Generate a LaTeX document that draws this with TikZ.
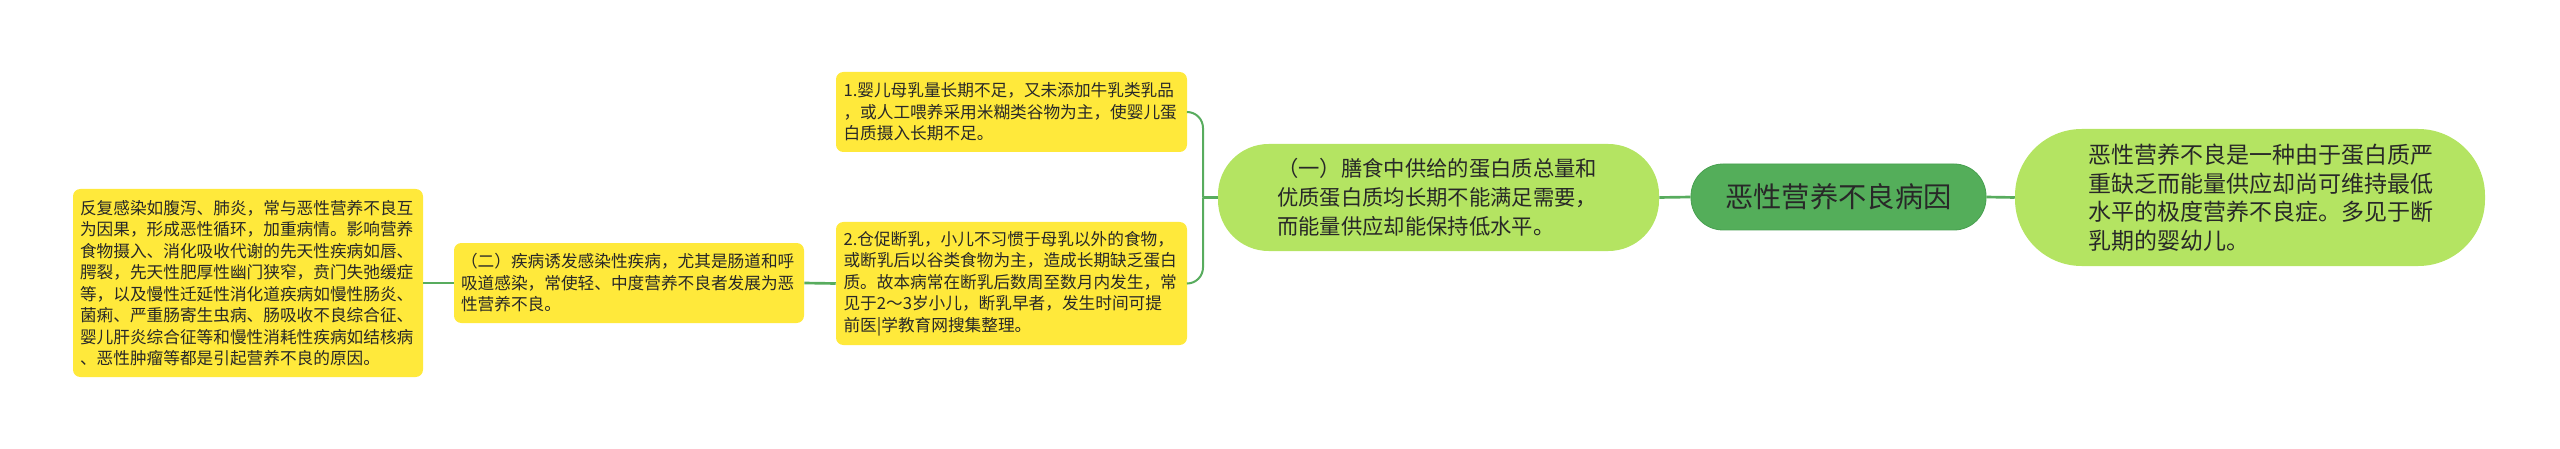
\documentclass[tikz,border=0pt]{standalone}
\usepackage{fontspec}
\setmainfont{Noto Sans CJK SC}
\definecolor{yel}{RGB}{255,233,59}
\definecolor{lgreen}{RGB}{180,228,98}
\definecolor{dgreen}{RGB}{84,174,90}
\definecolor{dgreenline}{RGB}{72,160,80}
\definecolor{conn}{RGB}{88,172,94}
\definecolor{txt}{RGB}{40,40,40}
\tikzset{
  ybox/.style={fill=yel, rounded corners=5.5pt, inner sep=0pt, align=left, text=txt,
    font=\fontsize{12.5}{16.1}\selectfont, text width=252pt},
  gbox/.style={fill=lgreen, inner sep=0pt, align=left, text=txt},
  rootbox/.style={fill=dgreen, draw=dgreenline, line width=0.6pt, inner sep=0pt, text=txt,
    font=\fontsize{21.2}{26}\selectfont},
  link/.style={draw=conn, line width=2pt},
  brace/.style={draw=conn, line width=1.5pt, rounded corners=12pt}
}
\begin{document}
\begin{tikzpicture}[x=0.75pt,y=-0.75pt]
\useasboundingbox (0,0) rectangle (2560,449);
% nodes
\node[ybox, minimum width=262.5pt, minimum height=141pt] (lbox) at (248,283)
 {反复感染如腹泻、肺炎，常与恶性营养不良互\\为因果，形成恶性循环，加重病情。影响营养\\食物摄入、消化吸收代谢的先天性疾病如唇、\\腭裂，先天性肥厚性幽门狭窄，贲门失弛缓症\\等，以及慢性迁延性消化道疾病如慢性肠炎、\\菌痢、严重肠寄生虫病、肠吸收不良综合征、\\婴儿肝炎综合征等和慢性消耗性疾病如结核病\\、恶性肿瘤等都是引起营养不良的原因。};
\node[ybox, minimum width=262.5pt, minimum height=60pt] (n2) at (629,283)
 {（二）疾病诱发感染性疾病，尤其是肠道和呼\\吸道感染，常使轻、中度营养不良者发展为恶\\性营养不良。};
\node[ybox, minimum width=263.25pt, minimum height=60pt] (b1) at (1011.5,112)
 {1.婴儿母乳量长期不足，又未添加牛乳类乳品\\，或人工喂养采用米糊类谷物为主，使婴儿蛋\\白质摄入长期不足。};
\node[ybox, minimum width=263.25pt, minimum height=92.25pt] (b2) at (1011.5,283.5)
 {2.仓促断乳，小儿不习惯于母乳以外的食物，\\或断乳后以谷类食物为主，造成长期缺乏蛋白\\质。故本病常在断乳后数周至数月内发生，常\\见于2～3岁小儿，断乳早者，发生时间可提\\前医|学教育网搜集整理。};
\node[gbox, rounded corners=38pt, minimum width=330.75pt, minimum height=80.25pt,
  font=\fontsize{16}{21.75}\selectfont, text width=242pt] (l1) at (1438.5,197.5)
 {（一）膳食中供给的蛋白质总量和\\优质蛋白质均长期不能满足需要，\\而能量供应却能保持低水平。};
\node[rootbox, rounded corners=24pt, minimum width=221.25pt, minimum height=49.5pt] (root) at (1838.5,197)
 {恶性营养不良病因};
\node[gbox, rounded corners=50pt, minimum width=352.5pt, minimum height=102.75pt,
  font=\fontsize{17.25}{21.4}\selectfont, text width=243pt] (rnode) at (2250,197.5)
 {恶性营养不良是一种由于蛋白质严\\重缺乏而能量供应却尚可维持最低\\水平的极度营养不良症。多见于断\\乳期的婴幼儿。};
% connectors
\coordinate (j1) at (1203,197.5);
\draw[link] (lbox.east) -- (n2.west);
\draw[link] (n2.east) -- (b2.west);
\draw[link] (l1.west) -- (j1);
\draw[brace] (j1) |- (b1.east);
\draw[brace] (j1) |- (b2.east);
\draw[link] (l1.east) -- (root.west);
\draw[link] (root.east) -- (rnode.west);
\end{tikzpicture}
\end{document}
